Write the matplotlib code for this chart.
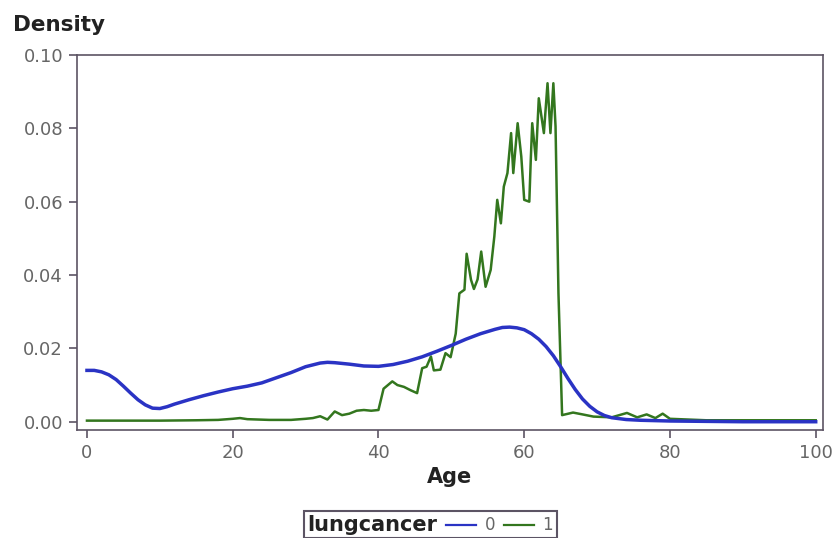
import matplotlib
matplotlib.use("Agg")
import matplotlib.pyplot as plt
from matplotlib.lines import Line2D
from matplotlib.offsetbox import AnchoredOffsetbox, HPacker, TextArea, DrawingArea

# kernel density of age, lungcancer = 0
age0 = [0, 1, 2, 3, 4, 5, 6, 7, 8, 9, 10, 11, 12, 14, 16, 18, 20, 22, 24, 26,
        28, 30, 32, 33, 34, 36, 38, 40, 42, 44, 46, 48, 50, 52, 54, 56, 57, 58,
        59, 60, 61, 62, 63, 64, 65, 66, 67, 68, 69, 70, 71, 72, 74, 76, 80, 85,
        90, 100]
dens0 = [0.0140, 0.0140, 0.0136, 0.0128, 0.0115, 0.0097, 0.0078, 0.0060,
         0.0046, 0.0037, 0.0036, 0.0041, 0.0048, 0.0060, 0.0071, 0.0081,
         0.0090, 0.0097, 0.0106, 0.0120, 0.0134, 0.0150, 0.0160, 0.0162,
         0.0161, 0.0157, 0.0152, 0.0151, 0.0156, 0.0165, 0.0177, 0.0192,
         0.0208, 0.0225, 0.0240, 0.0252, 0.0257, 0.0258, 0.0256, 0.0251,
         0.0240, 0.0225, 0.0205, 0.0180, 0.0150, 0.0118, 0.0088, 0.0062,
         0.0042, 0.0027, 0.0017, 0.0011, 0.0006, 0.0004, 0.0002, 0.0001,
         0.0, 0.0]

# kernel density of age, lungcancer = 1
age1 = [0, 5, 10, 15, 18, 20, 21, 22, 25, 28, 30, 31, 32, 33, 34, 35, 36, 37,
        38, 39, 40, 40.7, 41.3, 41.9, 42.6, 43.5, 44.4, 45.3, 46.0, 46.6, 47.2,
        47.6, 48.5, 49.2, 49.9, 50.6, 51.1, 51.8, 52.1, 52.7, 53.1, 53.6, 54.1,
        54.7, 55.4, 55.9, 56.3, 56.8, 57.2, 57.7, 58.2, 58.5, 59.1, 59.6, 60.0,
        60.7, 60.9, 61.1, 61.6, 62.0, 62.7, 63.2, 63.6, 64.0, 64.3, 64.7, 65.2,
        66.7, 68, 69.5, 72, 74.1, 75.5, 76.8, 78, 79, 80, 85, 100]
dens1 = [0.0003, 0.0003, 0.0003, 0.0004, 0.0005, 0.0008, 0.0010, 0.0007,
         0.0005, 0.0005, 0.0008, 0.0010, 0.0015, 0.0006, 0.0028, 0.0018,
         0.0022, 0.0030, 0.0032, 0.0030, 0.0032, 0.0090, 0.0100, 0.0110,
         0.0100, 0.0095, 0.0086, 0.0078, 0.0146, 0.0150, 0.0178, 0.0140,
         0.0142, 0.0187, 0.0176, 0.0240, 0.0350, 0.0360, 0.0458, 0.0387,
         0.0362, 0.0388, 0.0464, 0.0368, 0.0414, 0.0505, 0.0605, 0.0541,
         0.0641, 0.0678, 0.0787, 0.0678, 0.0814, 0.0723, 0.0605, 0.0600,
         0.0714, 0.0814, 0.0714, 0.0882, 0.0787, 0.0923, 0.0787, 0.0923,
         0.0805, 0.0350, 0.0018, 0.0025, 0.0020, 0.0014, 0.0012, 0.0024,
         0.0012, 0.0020, 0.0010, 0.0022, 0.0008, 0.0004, 0.0004]

xticks = [0, 20, 40, 60, 80, 100]
yticks = [0.00, 0.02, 0.04, 0.06, 0.08, 0.10]

blue = "#2a33c4"
green = "#33761e"
frame = "#5c5464"
tickc = "#666666"

fig = plt.figure(figsize=(8.34, 5.38), dpi=100)
ax = fig.add_axes([0.0923, 0.2007, 0.8945, 0.6971])

ax.plot(age0, dens0, color=blue, lw=2.5, zorder=3)
ax.plot(age1, dens1, color=green, lw=1.8, zorder=2)

ax.set_xlim(-1.37, 101.0)
ax.set_ylim(-0.00226, 0.1)
ax.set_xticks(xticks)
ax.set_xticklabels([str(v) for v in xticks])
ax.set_yticks(yticks)
ax.set_yticklabels([f"{v:.2f}" for v in yticks])
ax.tick_params(direction="out", length=6, width=1.2, color=frame,
               labelcolor=tickc, labelsize=13, pad=4)
for s in ax.spines.values():
    s.set_color(frame)
    s.set_linewidth(1.2)

ax.set_xlabel("Age", fontsize=15, fontweight="bold", color="#222222", labelpad=4)
fig.text(0.015, 0.935, "Density", fontsize=15.5, fontweight="bold",
         color="#222222", ha="left", va="bottom")

# horizontal legend: bold title followed by line/label pairs
def key(color):
    da = DrawingArea(22, 10, 0, 0)
    da.add_artist(Line2D([0, 22], [5, 5], color=color, lw=1.6))
    return da

items = [TextArea("lungcancer", textprops=dict(fontsize=15, fontweight="bold",
                                                color="#222222")),
         key(blue), TextArea("0", textprops=dict(fontsize=12, color=tickc)),
         key(green), TextArea("1", textprops=dict(fontsize=12, color=tickc))]
box = HPacker(children=items, align="center", pad=0, sep=6)
anch = AnchoredOffsetbox(loc="lower center", child=box, pad=0.25, borderpad=0,
                         frameon=True, bbox_to_anchor=(0.516, 0.0),
                         bbox_transform=fig.transFigure)
anch.patch.set_edgecolor(frame)
anch.patch.set_linewidth(1.5)
fig.add_artist(anch)

plt.savefig("out.png", dpi=100)
